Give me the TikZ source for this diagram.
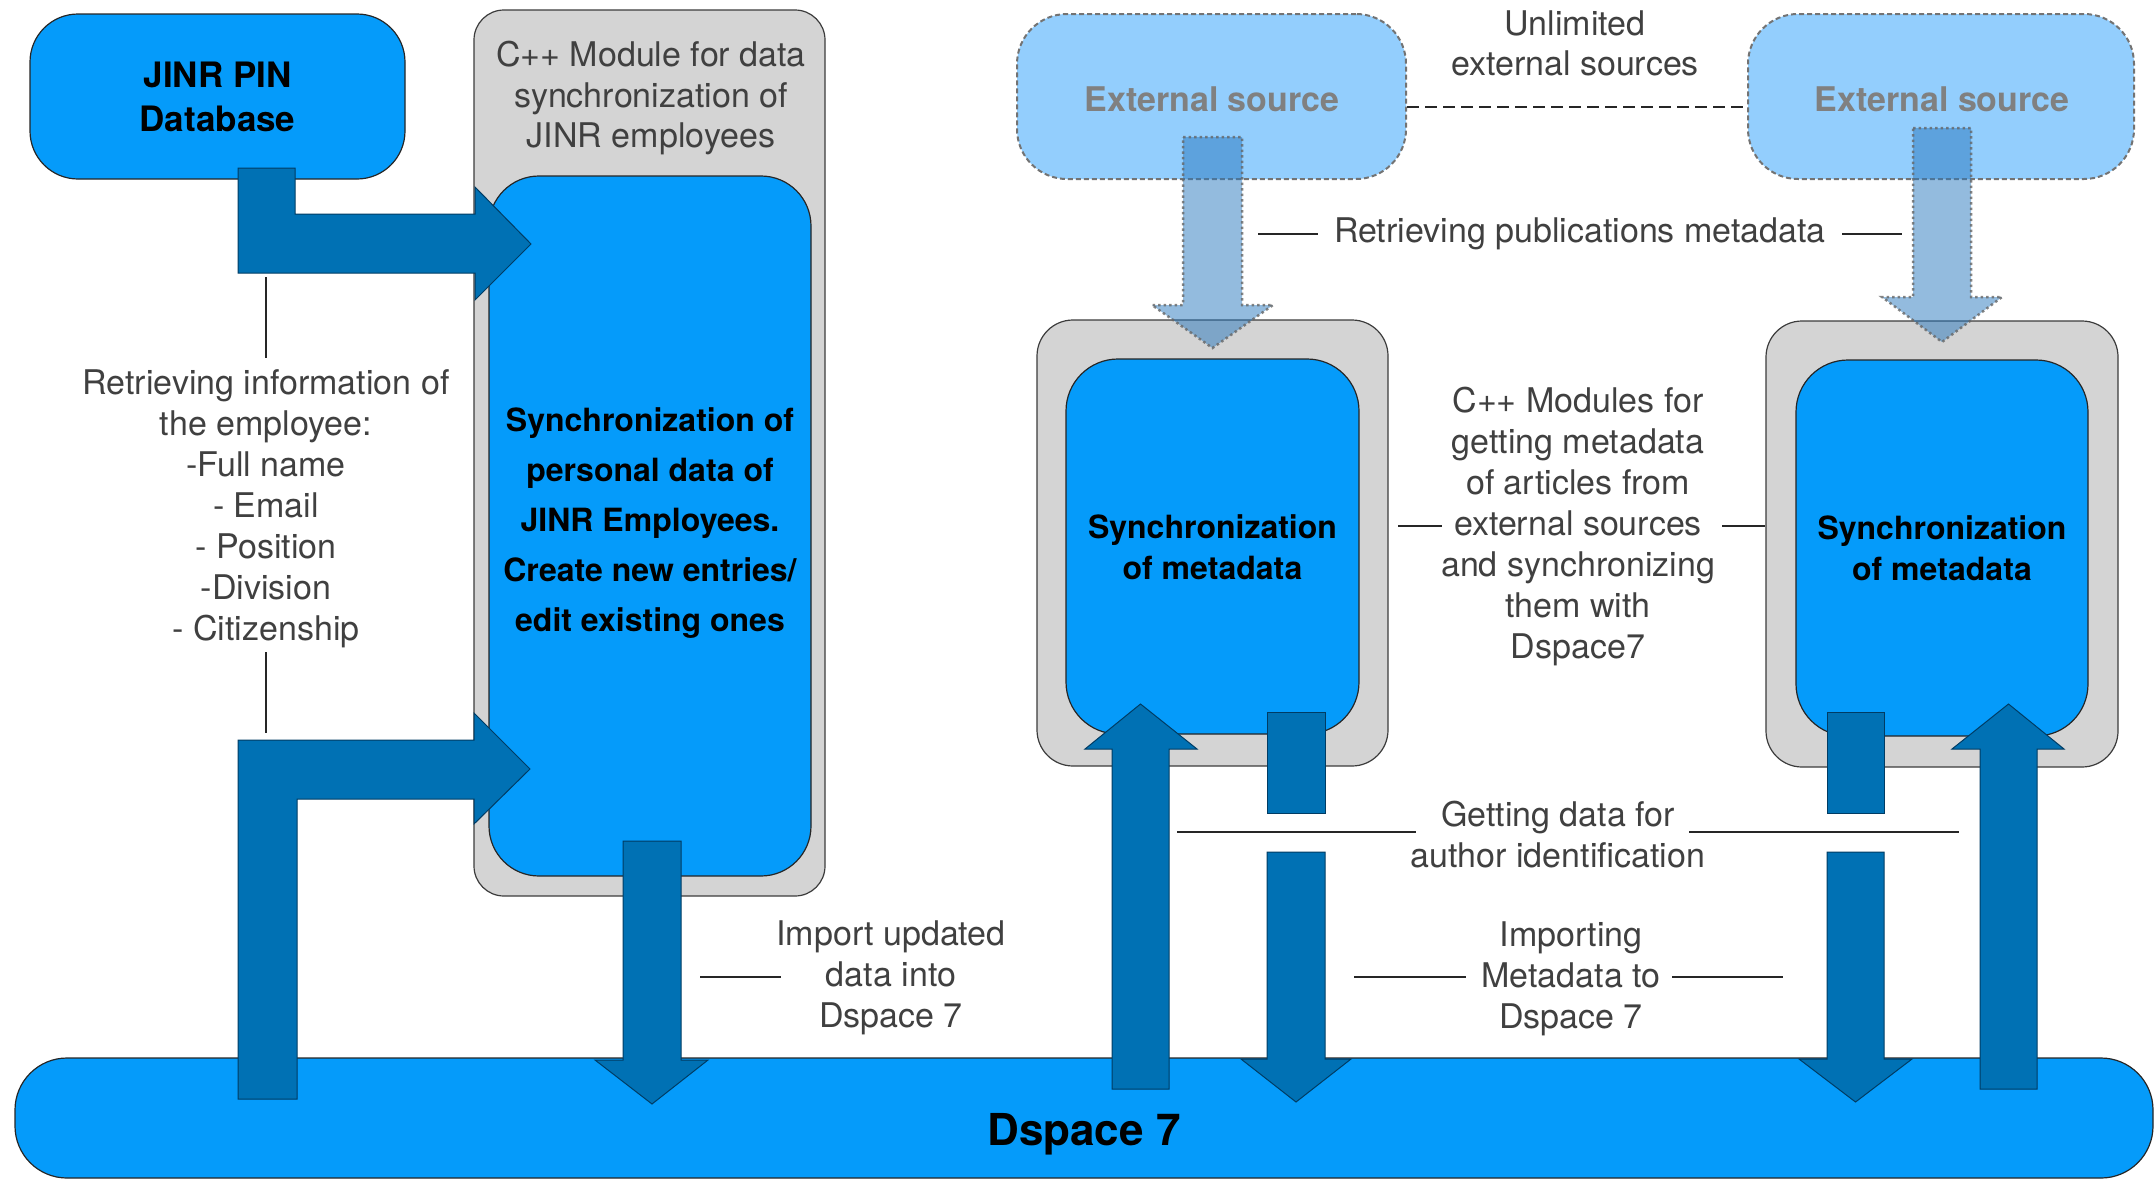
\documentclass[tikz,border=0pt]{standalone}
\usepackage{fontspec}
\setmainfont{TeX Gyre Heros}
\definecolor{boxblue}{RGB}{5,155,250}
\definecolor{arrowblue}{RGB}{0,113,180}
\definecolor{arrowedge}{RGB}{0,60,100}
\definecolor{modgray}{RGB}{212,212,212}
\definecolor{modedge}{RGB}{60,60,60}
\definecolor{extblue}{RGB}{147,206,253}
\definecolor{txtgray}{RGB}{64,64,64}
\definecolor{extgray}{RGB}{128,128,128}
\definecolor{transblue}{RGB}{40,120,190}
\begin{document}
\begin{tikzpicture}[x=1pt,y=-1pt,
  bluebox/.style={draw=black!85, line width=1.2pt, fill=boxblue, inner sep=0pt, align=center},
  graybox/.style={draw=modedge, line width=1.2pt, fill=modgray, inner sep=0pt},
  extbox/.style={draw=extgray!90!black, line width=2pt, dash pattern=on 5pt off 3pt, fill=extblue, inner sep=0pt, align=center},
  lbl/.style={text=txtgray, align=center, inner sep=0pt, font=\fontsize{34}{41}\selectfont},
  boldlbl/.style={text=black, align=center, inner sep=0pt},
  bigarrow/.style={fill=arrowblue, draw=arrowedge, line width=1pt, line join=miter},
  transarrow/.style={fill=transblue, fill opacity=0.5, draw=black!60, draw opacity=0.8, line width=2.5pt, dash pattern=on 2.5pt off 3pt},
  leader/.style={draw=black!85, line width=1.8pt}
]
\useasboundingbox (0,0) rectangle (2155,1178);

% ---------- boxes ----------
\node[bluebox, minimum width=2138pt, minimum height=120pt, rounded corners=52pt] (dspace) at (1084,1118) {};
\node[boldlbl, font=\fontsize{44}{50}\selectfont\bfseries] (dspacetxt) at (1084,1134) {Dspace 7};

\node[bluebox, minimum width=375pt, minimum height=165pt, rounded corners=48pt] (pin) at (217.5,96.5) {};
\node[boldlbl, font=\fontsize{35}{44}\selectfont\bfseries] (pintxt) at (217.5,97) {JINR PIN\\Database};

\node[graybox, minimum width=351pt, minimum height=886pt, rounded corners=30pt] (mod) at (649.5,453) {};
\node[lbl, font=\fontsize{34}{40.5}\selectfont] (modtxt) at (651,98.5) {C++ Module for data\\synchronization of\\JINR employees};
\node[bluebox, minimum width=322pt, minimum height=700pt, rounded corners=50pt] (sync) at (650,526) {};
\node[boldlbl, font=\fontsize{32}{50}\selectfont\bfseries] (synctxt) at (650,523.5) {Synchronization of\\personal data of\\JINR Employees.\\Create new entries/\\edit existing ones};

\node[extbox, minimum width=389pt, minimum height=165pt, rounded corners=50pt] (ext1) at (1211.5,96.5) {};
\node[extbox, minimum width=386pt, minimum height=165pt, rounded corners=50pt] (ext2) at (1941,96.5) {};
\node[boldlbl, text=extgray, font=\fontsize{34}{41}\selectfont\bfseries] (ext1txt) at (1212,99) {External source};
\node[boldlbl, text=extgray, font=\fontsize{34}{41}\selectfont\bfseries] (ext2txt) at (1942,99) {External source};
\draw[draw=black!85, line width=2pt, dash pattern=on 12pt off 6pt] (ext1.east) ++(0,10) -- ([yshift=-10pt]ext2.west);

\node[graybox, minimum width=351pt, minimum height=446pt, rounded corners=36pt] (gray1) at (1212.5,543) {};
\node[bluebox, minimum width=293pt, minimum height=375pt, rounded corners=52pt] (blue1) at (1212.5,546.5) {};
\node[boldlbl, font=\fontsize{32}{41}\selectfont\bfseries] (blue1txt) at (1212.5,547.5) {Synchronization\\of metadata};

\node[graybox, minimum width=352pt, minimum height=446pt, rounded corners=36pt] (gray2) at (1942,544) {};
\node[bluebox, minimum width=292pt, minimum height=376pt, rounded corners=52pt] (blue2) at (1942,548) {};
\node[boldlbl, font=\fontsize{32}{41}\selectfont\bfseries] (blue2txt) at (1942,548) {Synchronization\\of metadata};

% ---------- labels ----------
\node[lbl] (retr) at (266,509) {Retrieving information of\\the employee:\\-Full name\\- Email\\- Position\\-Division\\- Citizenship};
\node[lbl] (imp) at (891,978) {Import updated\\data into\\Dspace 7};
\node[lbl, font=\fontsize{34}{40}\selectfont] (unl) at (1575,43) {Unlimited\\external sources};
\node[lbl] (pub) at (1580,234) {Retrieving publications metadata};
\node[lbl] (mods) at (1578,526.5) {C++ Modules for\\getting metadata\\of articles from\\external sources\\and synchronizing\\them with\\Dspace7};
\node[lbl] (getd) at (1558,835) {Getting data for\\author identification};
\node[lbl] (impm) at (1571,978.5) {Importing\\Metadata to\\Dspace 7};

% ---------- leader lines ----------
\draw[leader] (266,277) -- (266,358);
\draw[leader] (266,652) -- (266,733);
\draw[leader] (700,977) -- (781,977);
\draw[leader] (1258,234) -- (1318,234);
\draw[leader] (1842,234) -- (1902,234);
\draw[leader] (1398,526) -- (1442,526);
\draw[leader] (1722,526) -- (1765,526);
\draw[leader] (1177,832) -- (1416,832);
\draw[leader] (1689,832) -- (1959,832);
\draw[leader] (1354,977) -- (1466,977);
\draw[leader] (1672,977) -- (1783,977);

% ---------- block arrows ----------
\path[bigarrow] (238,168) -- (295,168) -- (295,214) -- (475,214) -- (475,187) -- (531,244) -- (475,300) -- (475,273) -- (238,273) -- cycle;
\path[bigarrow] (238,1099) -- (238,740) -- (474,740) -- (474,713) -- (530,769) -- (474,824) -- (474,799) -- (297,799) -- (297,1099) -- cycle;
\path[bigarrow] (623,841) -- (681,841) -- (681,1060) -- (708,1060) -- (652,1104) -- (595,1060) -- (623,1060) -- cycle;

\path[bigarrow] (1112,1089) -- (1112,749) -- (1085,749) -- (1140.5,704) -- (1197,749) -- (1169,749) -- (1169,1089) -- cycle;
\path[bigarrow] (1267,712) rectangle (1325,813);
\path[bigarrow] (1267,852) -- (1325,852) -- (1325,1059) -- (1351,1059) -- (1296,1102) -- (1241,1059) -- (1267,1059) -- cycle;

\path[bigarrow] (1827,712) rectangle (1884,813);
\path[bigarrow] (1827,852) -- (1884,852) -- (1884,1059) -- (1912,1059) -- (1855.5,1102) -- (1799,1059) -- (1827,1059) -- cycle;
\path[bigarrow] (1980,1089) -- (1980,749) -- (1952,749) -- (2008.5,704) -- (2064,749) -- (2037,749) -- (2037,1089) -- cycle;

\path[transarrow] (1183,137) -- (1242,137) -- (1242,305) -- (1273,305) -- (1212.5,348) -- (1152,305) -- (1183,305) -- cycle;
\path[transarrow] (1913,128) -- (1971,128) -- (1971,297) -- (2002,297) -- (1942,342) -- (1882,297) -- (1913,297) -- cycle;
\end{tikzpicture}
\end{document}
